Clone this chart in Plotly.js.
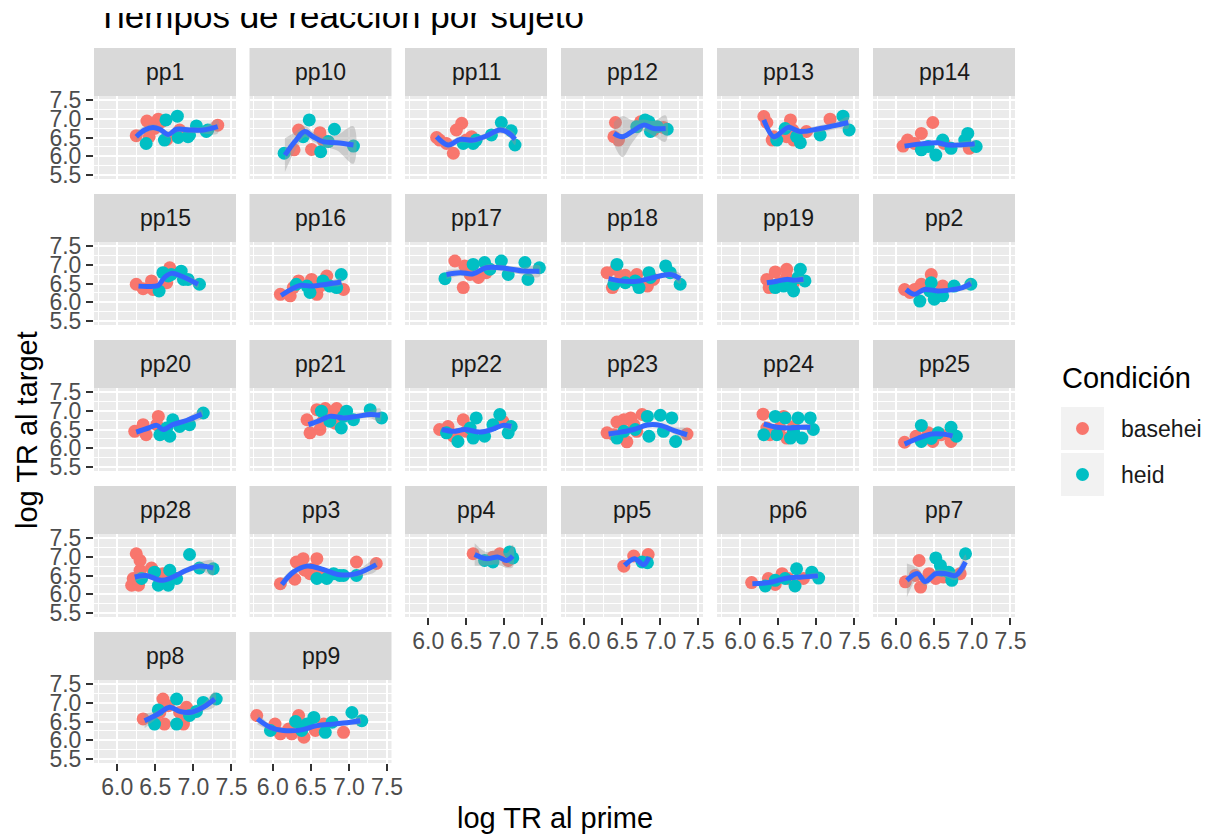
<!DOCTYPE html>
<html>
<head>
<meta charset="utf-8">
<script src="https://cdn.plot.ly/plotly-3.0.1.min.js"></script>
<style>
html,body{margin:0;padding:0;background:#ffffff;}
#chart{width:1210px;height:834px;}
#cover{position:absolute;left:0;top:0;width:1210px;height:13px;background:#ffffff;z-index:10;}
</style>
</head>
<body>
<div id="chart"></div>
<div id="cover"></div>
<script>
// ---------- data ----------
const panels = ['pp1','pp10','pp11','pp12','pp13','pp14','pp15','pp16','pp17','pp18','pp19','pp2',
  'pp20','pp21','pp22','pp23','pp24','pp25','pp28','pp3','pp4','pp5','pp6','pp7','pp8','pp9'];

const conditions = ['basehei','heid'];

const baseheiX = [
  [6.25,6.39,6.42,6.54,6.58,6.65,6.82,7.32,6.49],
  [6.34,6.28,6.51,6.62,6.66],
  [6.11,6.33,6.44,6.37,6.57,6.24,6.50,6.15],
  [6.41,6.39,6.45,6.74,7.04,6.91],
  [6.31,6.35,6.44,6.42,6.66,6.69,6.70,6.87,7.18,6.61],
  [6.09,6.15,6.33,6.48,6.63,6.96,6.24],
  [6.25,6.34,6.45,6.47,6.69,6.65,6.54],
  [6.10,6.23,6.27,6.34,6.51,6.58,6.71,6.93,6.62],
  [6.35,6.48,6.55,6.66,6.46,6.76],
  [6.30,6.37,6.41,6.48,6.54,6.69,6.83,6.91,6.61],
  [6.35,6.38,6.46,6.61,6.61,6.70,6.52],
  [6.11,6.18,6.33,6.46,6.61,6.59,6.24],
  [6.23,6.34,6.38,6.54,6.52,6.58],
  [6.45,6.49,6.58,6.69,6.66,6.75,6.84,6.82,6.62],
  [6.15,6.26,6.37,6.46,6.50,6.98,6.33],
  [6.30,6.43,6.52,6.61,6.56,6.69,6.76,6.39,6.65,7.35],
  [6.30,6.35,6.39,6.57,6.61,6.70,6.52],
  [6.11,6.26,6.42,6.48,6.72,6.59],
  [6.25,6.30,6.21,6.19,6.28,6.45,6.30,6.56,6.60],
  [6.10,6.29,6.31,6.40,6.42,6.58,6.53,6.64,7.10,7.36,6.49],
  [6.59,6.85,6.94,7.05],
  [6.52,6.65,6.84],
  [6.15,6.37,6.55,6.63,6.83,6.46],
  [6.12,6.30,6.32,6.43,6.52,6.62,6.84,6.25],
  [6.34,6.49,6.56,6.60,6.62,6.82,6.87,6.91,6.67],
  [5.79,6.03,6.10,6.21,6.34,6.41,6.56,6.67,6.93,6.25]
];
const baseheiY = [
  [6.55,6.94,6.52,6.99,6.92,6.45,6.70,6.83,6.74],
  [6.70,6.17,6.18,6.63,6.43],
  [6.50,6.08,6.88,6.70,6.52,6.34,6.43,6.43],
  [6.90,6.52,6.43,6.92,6.77,6.70],
  [7.06,6.90,6.52,6.43,6.97,6.70,6.43,6.66,6.99,6.52],
  [6.27,6.43,6.61,6.90,6.34,6.21,6.34],
  [6.48,6.36,6.57,6.34,6.92,6.52,6.34],
  [6.21,6.17,6.39,6.57,6.61,6.21,6.70,6.34,6.43],
  [7.10,6.97,6.74,6.66,6.39,6.79],
  [6.79,6.39,6.88,6.66,6.72,6.74,6.43,6.61,6.61],
  [6.61,6.39,6.81,6.88,6.68,6.52,6.52],
  [6.34,6.26,6.48,6.74,6.43,6.30,6.34],
  [6.45,6.63,6.36,6.85,6.63,6.41],
  [6.76,6.41,7.03,7.06,6.72,6.90,7.06,6.67,6.50],
  [6.50,6.58,6.36,6.76,6.45,6.72,6.32],
  [6.41,6.70,6.76,6.81,6.17,6.45,6.90,6.36,6.63,6.38],
  [6.91,6.54,6.36,6.85,6.27,6.58,6.54],
  [6.16,6.32,6.41,6.18,6.18,6.36],
  [7.08,6.90,6.42,6.24,6.24,6.70,6.64,6.42,6.55],
  [6.28,6.40,6.86,6.95,6.64,6.95,6.68,6.55,6.86,6.82,6.55],
  [7.08,6.99,7.08,6.90],
  [6.75,7.02,7.06],
  [6.31,6.42,6.55,6.42,6.42,6.26],
  [6.33,6.90,6.19,6.55,6.42,6.46,6.55,6.50],
  [6.57,6.52,6.74,7.10,6.43,6.74,6.43,6.88,6.92],
  [6.66,6.43,6.17,6.30,6.66,6.08,6.26,6.43,6.21,6.17]
];
const heidX = [
  [6.38,6.64,6.79,6.80,6.62,6.95,7.04,7.17,7.19,6.93],
  [6.15,6.48,6.63,6.81,7.06,6.73,6.40],
  [6.46,6.63,6.83,6.96,7.09,7.14,6.59],
  [6.80,6.85,6.87,7.09,6.69,6.96],
  [6.59,6.48,6.79,7.05,7.35,7.43,6.74],
  [6.33,6.52,6.61,6.72,6.90,6.94,7.05,6.42],
  [6.55,6.60,6.71,6.84,6.87,6.93,7.08,6.67],
  [6.31,6.45,6.49,6.66,6.75,6.90,6.84],
  [6.22,6.59,6.74,6.96,7.05,7.27,7.31,7.46,6.81],
  [6.43,6.39,6.54,6.72,6.85,6.87,7.07,7.13,7.26,6.67],
  [6.46,6.57,6.70,6.79,6.85,6.76,6.66],
  [6.31,6.46,6.50,6.61,6.76,6.98,6.44],
  [6.56,6.69,6.73,6.82,6.95,7.13,6.65],
  [6.64,6.75,6.90,6.97,7.06,7.28,7.43,6.93],
  [6.24,6.39,6.55,6.63,6.59,6.74,6.94,7.05,7.09,6.85],
  [6.43,6.52,6.67,6.83,6.85,7.00,7.15,7.20,7.04],
  [6.31,6.46,6.48,6.59,6.66,6.76,6.81,6.92,6.96,6.70],
  [6.33,6.33,6.55,6.72,6.79,6.46],
  [6.32,6.49,6.54,6.69,6.67,6.78,6.95,7.08,7.26],
  [6.58,6.71,6.88,6.93,7.10,6.80],
  [6.74,7.07,7.11,6.85],
  [6.83,6.76],
  [6.33,6.46,6.59,6.74,6.72,6.94,7.03],
  [6.52,6.58,6.60,6.73,6.91,6.69],
  [6.49,6.54,6.78,6.78,6.95,7.13,7.30,7.04],
  [5.97,6.30,6.45,6.54,6.69,6.78,7.04,7.17,6.38]
];
const heidY = [
  [6.34,6.97,7.07,6.50,6.43,6.57,6.81,6.66,6.70,6.52],
  [6.08,6.97,6.12,6.72,6.27,6.39,6.52],
  [6.34,6.43,6.57,6.90,6.68,6.30,6.34],
  [6.97,6.92,6.66,6.72,6.79,6.79],
  [6.74,6.43,6.36,6.57,7.07,6.70,6.52],
  [6.17,6.03,6.43,6.21,6.43,6.61,6.26,6.26],
  [6.30,6.79,6.74,6.83,6.61,6.61,6.48,6.70],
  [6.48,6.43,6.26,6.57,6.43,6.74,6.39],
  [6.63,7.01,7.06,7.10,6.74,7.06,6.61,6.92,6.88],
  [7.01,6.48,6.52,6.39,6.79,6.66,6.97,6.79,6.48,6.57],
  [6.39,6.43,6.30,6.88,6.57,6.66,6.48],
  [6.03,6.52,6.08,6.17,6.43,6.48,6.30],
  [6.36,6.32,6.76,6.58,6.63,6.94,6.54],
  [6.99,6.72,6.54,6.99,6.76,7.03,6.81,6.85],
  [6.41,6.18,6.54,6.81,6.27,6.32,6.90,6.41,6.58,6.63],
  [6.27,6.45,6.50,6.85,6.32,6.88,6.81,6.18,6.45],
  [6.36,6.85,6.36,6.81,6.27,6.81,6.27,6.81,6.50,6.45],
  [6.61,6.18,6.41,6.56,6.32,6.26],
  [6.42,6.59,6.24,6.64,6.24,6.42,7.06,6.70,6.68],
  [6.42,6.42,6.50,6.50,6.50,6.55],
  [6.90,7.13,6.97,6.86],
  [6.84,6.86],
  [6.22,6.37,6.42,6.68,6.22,6.59,6.43],
  [6.97,6.77,6.64,6.37,7.08,6.59],
  [6.43,6.81,7.10,6.43,6.66,7.01,7.10,6.77],
  [6.26,6.50,6.43,6.61,6.21,6.48,6.74,6.52,6.26]
];
// smooth (loess) curve and its standard-error half width
const smoothX = [
  [6.25,6.36,6.47,6.56,6.67,6.78,6.95,7.13,7.32],
  [6.16,6.29,6.42,6.53,6.66,6.84,7.06],
  [6.11,6.26,6.42,6.59,6.76,6.94,7.05,7.14],
  [6.39,6.50,6.63,6.78,6.91,7.07],
  [6.31,6.44,6.55,6.63,6.79,7.05,7.27,7.42],
  [6.11,6.33,6.55,6.68,7.03],
  [6.28,6.41,6.54,6.62,6.71,6.84,7.06],
  [6.11,6.23,6.36,6.51,6.71,6.90],
  [6.24,6.42,6.59,6.76,7.03,7.25,7.46],
  [6.32,6.48,6.69,6.91,7.13,7.26],
  [6.35,6.48,6.61,6.70,6.83],
  [6.13,6.24,6.37,6.55,6.72,6.87,6.98],
  [6.25,6.41,6.52,6.60,6.73,6.91,7.11],
  [6.47,6.62,6.75,6.93,7.10,7.28,7.41],
  [6.18,6.33,6.48,6.68,6.85,6.98,7.09],
  [6.32,6.48,6.65,6.83,7.00,7.18,7.35],
  [6.31,6.48,6.66,6.79,6.92],
  [6.11,6.28,6.46,6.61,6.74],
  [6.23,6.38,6.58,6.73,6.91,7.08,7.26],
  [6.12,6.27,6.45,6.66,6.88,7.10,7.36],
  [6.61,6.76,6.92,7.03,7.11],
  [6.53,6.66,6.78,6.85],
  [6.16,6.37,6.59,6.81,7.02],
  [6.14,6.28,6.38,6.52,6.65,6.78,6.91],
  [6.36,6.52,6.69,6.82,6.95,7.13,7.28],
  [5.80,5.97,6.14,6.36,6.58,6.80,7.02,7.15]
];
const smoothY = [
  [6.52,6.70,6.77,6.72,6.58,6.72,6.70,6.70,6.79],
  [6.03,6.39,6.66,6.52,6.39,6.36,6.30],
  [6.52,6.30,6.45,6.43,6.54,6.70,6.63,6.45],
  [6.61,6.52,6.66,6.83,6.74,6.74],
  [6.97,6.52,6.66,6.77,6.66,6.74,6.83,6.90],
  [6.27,6.33,6.36,6.30,6.33],
  [6.43,6.42,6.45,6.66,6.77,6.70,6.48],
  [6.18,6.33,6.45,6.43,6.48,6.54],
  [6.74,6.79,6.76,6.92,6.90,6.83,6.83],
  [6.63,6.57,6.56,6.66,6.74,6.63],
  [6.52,6.56,6.61,6.59,6.61],
  [6.34,6.21,6.34,6.30,6.33,6.39,6.50],
  [6.43,6.54,6.61,6.50,6.63,6.74,6.91],
  [6.63,6.74,6.85,6.81,6.85,6.90,6.88],
  [6.50,6.45,6.50,6.43,6.51,6.61,6.58],
  [6.38,6.43,6.50,6.62,6.61,6.47,6.36],
  [6.65,6.56,6.54,6.56,6.56],
  [6.11,6.26,6.38,6.38,6.33],
  [6.46,6.50,6.37,6.46,6.64,6.75,6.70],
  [6.26,6.59,6.75,6.66,6.52,6.55,6.79],
  [7.06,6.95,6.99,6.90,7.02],
  [6.77,6.95,6.79,6.99],
  [6.28,6.31,6.42,6.46,6.49],
  [6.37,6.55,6.34,6.55,6.55,6.50,6.86],
  [6.52,6.68,6.88,6.77,6.74,6.88,7.10],
  [6.57,6.34,6.26,6.27,6.39,6.43,6.48,6.52]
];
const smoothSE = [
  [0.15,0.10,0.09,0.09,0.09,0.08,0.08,0.09,0.18],
  [0.45,0.25,0.15,0.13,0.13,0.20,0.50],
  [0.12,0.10,0.09,0.08,0.08,0.09,0.10,0.15],
  [0.30,0.55,0.30,0.15,0.20,0.35],
  [0.15,0.10,0.09,0.09,0.08,0.09,0.10,0.15],
  [0.07,0.05,0.05,0.05,0.08],
  [0.07,0.06,0.06,0.07,0.07,0.06,0.09],
  [0.08,0.06,0.05,0.05,0.06,0.09],
  [0.12,0.09,0.08,0.08,0.08,0.10,0.15],
  [0.08,0.06,0.06,0.06,0.08,0.14],
  [0.08,0.06,0.06,0.06,0.09],
  [0.08,0.06,0.06,0.05,0.06,0.08,0.12],
  [0.07,0.06,0.06,0.06,0.06,0.07,0.12],
  [0.10,0.08,0.07,0.07,0.07,0.10,0.18],
  [0.07,0.05,0.05,0.05,0.05,0.06,0.09],
  [0.10,0.07,0.06,0.06,0.07,0.09,0.16],
  [0.08,0.06,0.06,0.06,0.08],
  [0.07,0.05,0.05,0.05,0.07],
  [0.12,0.08,0.07,0.07,0.08,0.10,0.20],
  [0.15,0.09,0.07,0.06,0.06,0.08,0.16],
  [0.30,0.18,0.20,0.20,0.30],
  [0,0,0,0],
  [0.06,0.04,0.04,0.04,0.07],
  [0.45,0.15,0.12,0.10,0.10,0.12,0.20],
  [0.20,0.10,0.09,0.08,0.08,0.10,0.20],
  [0.15,0.08,0.06,0.05,0.05,0.06,0.07,0.10]
];

// ---------- layout / style ----------
const W = 1210, H = 834;
const FONT = 'Liberation Sans, Arial, Helvetica, sans-serif';
const colLeft = [94, 249.5, 405, 561, 717, 873];
const panelW = 142;
const rowTop = [96, 242, 388, 534, 680];
const panelH = 83, stripH = 48;
const COLORS = {basehei: '#F8766D', heid: '#00BFC4'};

const traces = [];
const shapes = [];
const annotations = [];
const layout = {
  width: W, height: H, autosize: false,
  margin: {l: 0, r: 0, t: 0, b: 0, pad: 0},
  paper_bgcolor: '#FFFFFF', plot_bgcolor: '#EBEBEB',
  showlegend: false, hovermode: false,
  font: {family: FONT, color: '#1A1A1A'}
};

panels.forEach((name, i) => {
  const r = Math.floor(i / 6), c = i % 6;
  const sfx = i === 0 ? '' : String(i + 1);
  const xa = 'x' + sfx, ya = 'y' + sfx;
  const left = colLeft[c], top = rowTop[r];
  const showX = (r === 4) || (r === 3 && c >= 2);
  const showY = (c === 0);

  layout['xaxis' + sfx] = {
    domain: [left / W, (left + panelW) / W], anchor: ya,
    range: [5.695, 7.56], tickmode: 'linear', tick0: 6, dtick: 0.5, tickformat: '.1f',
    showgrid: true, gridcolor: '#FFFFFF', gridwidth: 2,
    minor: {tickmode: 'linear', tick0: 5.75, dtick: 0.25, showgrid: true, gridcolor: '#FFFFFF', gridwidth: 1, ticks: ''},
    zeroline: false, showline: false,
    ticks: showX ? 'outside' : '', ticklen: 7, tickwidth: 2, tickcolor: '#333333',
    showticklabels: showX, ticklabelstandoff: -4,
    tickfont: {family: FONT, size: 23, color: '#4D4D4D'}, fixedrange: true
  };
  layout['yaxis' + sfx] = {
    domain: [1 - (top + panelH) / H, 1 - top / H], anchor: xa,
    range: [5.393, 7.607], tickmode: 'linear', tick0: 5.5, dtick: 0.5, tickformat: '.1f',
    showgrid: true, gridcolor: '#FFFFFF', gridwidth: 2,
    minor: {tickmode: 'linear', tick0: 5.75, dtick: 0.25, showgrid: true, gridcolor: '#FFFFFF', gridwidth: 1, ticks: ''},
    zeroline: false, showline: false,
    ticks: showY ? 'outside' : '', ticklen: 7, tickwidth: 2, tickcolor: '#333333',
    showticklabels: showY,
    tickfont: {family: FONT, size: 23, color: '#4D4D4D'}, fixedrange: true
  };

  // points
  traces.push({type: 'scatter', mode: 'markers', x: baseheiX[i], y: baseheiY[i], xaxis: xa, yaxis: ya,
    name: 'basehei', marker: {color: COLORS.basehei, size: 13, line: {width: 0}}, hoverinfo: 'skip'});
  traces.push({type: 'scatter', mode: 'markers', x: heidX[i], y: heidY[i], xaxis: xa, yaxis: ya,
    name: 'heid', marker: {color: COLORS.heid, size: 13, line: {width: 0}}, hoverinfo: 'skip'});

  // confidence ribbon
  const sx = smoothX[i], sy = smoothY[i], se = smoothSE[i];
  if (se.some(v => v > 0)) {
    const upper = sy.map((v, k) => v + se[k]);
    const lower = sy.map((v, k) => v - se[k]);
    traces.push({type: 'scatter', mode: 'lines', x: sx.concat(sx.slice().reverse()),
      y: upper.concat(lower.slice().reverse()), xaxis: xa, yaxis: ya,
      fill: 'toself', fillcolor: 'rgba(153,153,153,0.4)',
      line: {width: 0, color: 'rgba(0,0,0,0)', shape: 'spline', smoothing: 1}, hoverinfo: 'skip'});
  }
  // smooth line
  traces.push({type: 'scatter', mode: 'lines', x: sx, y: sy, xaxis: xa, yaxis: ya,
    line: {color: '#3366FF', width: 5, shape: 'spline', smoothing: 1}, hoverinfo: 'skip'});

  // strip
  shapes.push({type: 'rect', xref: 'paper', yref: 'paper',
    x0: left / W, x1: (left + panelW) / W, y0: 1 - top / H, y1: 1 - (top - stripH) / H,
    fillcolor: '#D9D9D9', line: {width: 0}, layer: 'below'});
  annotations.push({xref: 'paper', yref: 'paper', x: (left + panelW / 2) / W, y: 1 - (top - stripH / 2) / H,
    xanchor: 'center', yanchor: 'middle', showarrow: false, text: name,
    font: {family: FONT, size: 23, color: '#1A1A1A'}});
});

// axis titles and plot title
annotations.push({xref: 'paper', yref: 'paper', x: 555 / W, y: 1 - 818 / H, xanchor: 'center', yanchor: 'middle',
  showarrow: false, text: 'log TR al prime', font: {family: FONT, size: 29, color: '#000000'}});
annotations.push({xref: 'paper', yref: 'paper', x: 27 / W, y: 1 - 430 / H, xanchor: 'center', yanchor: 'middle',
  textangle: -90, showarrow: false, text: 'log TR al target', font: {family: FONT, size: 29, color: '#000000'}});
annotations.push({xref: 'paper', yref: 'paper', x: 95 / W, y: 1 - 16 / H, xanchor: 'left', yanchor: 'middle',
  showarrow: false, text: 'Tiempos de reacción por sujeto', font: {family: FONT, size: 35, color: '#000000'}});

// legend (drawn by hand so its keys match the reference)
annotations.push({xref: 'paper', yref: 'paper', x: 1060 / W, y: 1 - 378 / H, xanchor: 'left', yanchor: 'middle',
  showarrow: false, text: 'Condición', font: {family: FONT, size: 29, color: '#000000'}});
const keyTop = [407, 453];
conditions.forEach((cond, k) => {
  const t = keyTop[k];
  shapes.push({type: 'rect', xref: 'paper', yref: 'paper', x0: 1061 / W, x1: 1104 / W,
    y0: 1 - (t + 43) / H, y1: 1 - t / H, fillcolor: '#F2F2F2', line: {width: 0}});
  shapes.push({type: 'circle', xref: 'paper', yref: 'paper', xsizemode: 'pixel', ysizemode: 'pixel',
    xanchor: 1082.5 / W, yanchor: 1 - (t + 21.5) / H, x0: -6.5, x1: 6.5, y0: -6.5, y1: 6.5,
    fillcolor: COLORS[cond], line: {width: 0}});
  annotations.push({xref: 'paper', yref: 'paper', x: 1119 / W, y: 1 - (t + 21.5) / H, xanchor: 'left', yanchor: 'middle',
    showarrow: false, text: cond, font: {family: FONT, size: 23, color: '#1A1A1A'}});
});

layout.shapes = shapes;
layout.annotations = annotations;

Plotly.newPlot('chart', traces, layout, {staticPlot: true, displayModeBar: false});
</script>
</body>
</html>
